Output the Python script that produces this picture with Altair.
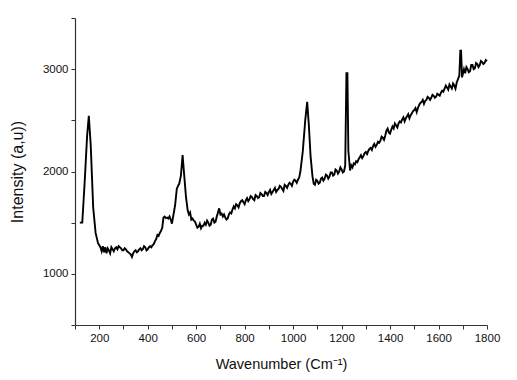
import altair as alt
import pandas as pd

# (wavenumber, intensity), by region
seg_low = [(120, 1500), (130, 1500), (140, 1900), (150, 2350), (157, 2545), (165, 2250), (175, 1650),
           (185, 1400), (195, 1300), (205, 1260), (210, 1220), (215, 1270), (220, 1210), (225, 1260),
           (230, 1200), (235, 1250), (240, 1230), (245, 1200), (250, 1260), (255, 1240), (260, 1220),
           (265, 1250), (270, 1260), (275, 1240), (280, 1270), (285, 1260), (290, 1250), (295, 1230),
           (300, 1230), (305, 1250), (310, 1240), (315, 1220), (320, 1210), (325, 1200), (330, 1190),
           (335, 1165), (340, 1200), (345, 1220), (350, 1230), (355, 1210), (360, 1220), (365, 1240),
           (370, 1250), (375, 1230), (380, 1240), (385, 1270), (390, 1260), (395, 1230), (400, 1240),
           (405, 1260), (410, 1270), (415, 1260), (420, 1280), (425, 1290), (430, 1320), (435, 1340),
           (440, 1380), (445, 1370), (450, 1400), (455, 1420), (460, 1450)]
seg_band = [(465, 1550), (470, 1560), (475, 1545), (480, 1550), (485, 1540), (490, 1560), (495, 1530),
            (500, 1490), (505, 1560), (513, 1670), (520, 1830), (525, 1860), (530, 1880), (537, 1960),
            (544, 2160), (550, 1980), (558, 1750), (565, 1620), (570, 1580), (575, 1600), (580, 1530),
            (585, 1540), (590, 1520), (595, 1510)]
seg_mid = [(600, 1480), (605, 1450), (610, 1460), (615, 1490), (620, 1445), (625, 1470), (630, 1470),
           (635, 1500), (640, 1480), (645, 1520), (650, 1500), (655, 1470), (660, 1480), (665, 1530),
           (670, 1540), (675, 1500), (680, 1510), (685, 1560), (690, 1600), (695, 1640), (700, 1580),
           (705, 1590), (710, 1560), (715, 1580), (720, 1550), (725, 1530), (730, 1540), (735, 1580),
           (740, 1600), (745, 1590), (750, 1630), (755, 1660), (760, 1640), (765, 1680), (770, 1670),
           (775, 1650), (780, 1690), (785, 1710), (790, 1720), (795, 1700), (800, 1680), (805, 1720),
           (810, 1740), (815, 1710), (820, 1730), (825, 1760), (830, 1750), (835, 1730), (840, 1720),
           (845, 1770), (850, 1760), (855, 1740), (860, 1750), (865, 1790), (870, 1780), (875, 1760),
           (880, 1760), (885, 1800), (890, 1790), (895, 1770), (900, 1800), (905, 1820), (910, 1780),
           (915, 1800), (920, 1820), (925, 1840), (930, 1800), (935, 1820), (940, 1830), (945, 1860),
           (950, 1850), (955, 1830), (960, 1810), (965, 1870), (970, 1860), (975, 1840), (980, 1870),
           (985, 1890), (990, 1880), (995, 1860), (1000, 1900), (1005, 1920), (1010, 1910), (1015, 1890),
           (1020, 1920), (1025, 1940)]
seg_peaks = [(1030, 2000), (1040, 2200), (1050, 2500), (1058, 2680), (1065, 2450), (1072, 2150),
             (1080, 1950), (1085, 1880), (1090, 1870), (1095, 1920), (1100, 1910), (1105, 1880),
             (1110, 1890), (1115, 1930), (1120, 1940), (1125, 1910), (1130, 1930), (1135, 1970),
             (1140, 1960), (1145, 1930), (1150, 1950), (1155, 1990), (1160, 1990), (1165, 1960),
             (1170, 1970), (1175, 2020), (1180, 2010), (1185, 1980), (1190, 2000), (1195, 2040),
             (1200, 2020), (1205, 1990), (1210, 2000), (1215, 2060), (1220, 2960), (1224, 2960),
             (1228, 2200), (1235, 2010)]
seg_high = [(1240, 2060), (1245, 2040), (1250, 2080), (1255, 2070), (1260, 2100), (1265, 2090),
            (1270, 2120), (1275, 2140), (1280, 2160), (1285, 2130), (1290, 2150), (1295, 2180),
            (1300, 2190), (1305, 2170), (1310, 2200), (1315, 2220), (1320, 2230), (1325, 2210),
            (1330, 2250), (1335, 2270), (1340, 2240), (1345, 2260), (1350, 2290), (1355, 2280),
            (1360, 2300), (1365, 2340), (1370, 2330), (1375, 2310), (1380, 2350), (1385, 2400),
            (1390, 2420), (1395, 2380), (1400, 2370), (1405, 2410), (1410, 2440), (1415, 2420),
            (1420, 2470), (1425, 2450), (1430, 2430), (1435, 2470), (1440, 2490), (1445, 2480),
            (1450, 2510), (1455, 2530), (1460, 2490), (1465, 2520), (1470, 2540), (1475, 2560),
            (1480, 2520), (1485, 2550), (1490, 2570), (1495, 2590), (1500, 2600), (1505, 2620),
            (1510, 2580), (1515, 2620), (1520, 2650), (1525, 2670), (1530, 2680), (1535, 2700),
            (1540, 2660), (1545, 2690), (1550, 2700), (1555, 2730), (1560, 2720), (1565, 2700),
            (1570, 2720), (1575, 2750), (1580, 2740), (1585, 2720), (1590, 2730), (1595, 2760),
            (1600, 2750), (1605, 2740), (1610, 2770), (1615, 2790), (1620, 2780), (1625, 2810),
            (1630, 2840), (1635, 2820), (1640, 2800), (1645, 2850), (1650, 2830), (1655, 2810),
            (1660, 2860), (1665, 2840), (1670, 2810), (1675, 2870), (1680, 2900)]
seg_end = [(1686, 2940), (1690, 3180), (1693, 3180), (1697, 2920), (1705, 3000), (1710, 2960),
           (1715, 3020), (1720, 3000), (1725, 2970), (1730, 2980), (1735, 3040), (1740, 3040),
           (1745, 3000), (1750, 3010), (1755, 3060), (1760, 3050), (1765, 3020), (1770, 3040),
           (1775, 3080), (1780, 3070), (1785, 3050), (1790, 3060), (1795, 3090), (1800, 3080)]

x_ticks = list(range(100, 1801, 100))
y_ticks = list(range(500, 3501, 500))

points = seg_low + seg_band + seg_mid + seg_peaks + seg_high + seg_end
df = pd.DataFrame(points, columns=["w", "i"])

font = "Liberation Sans"

chart = alt.Chart(df).mark_line(color="black", strokeWidth=1.9).encode(
    x=alt.X("w:Q", scale=alt.Scale(domain=[100, 1800], nice=False, zero=False),
            axis=alt.Axis(title="Wavenumber (Cm⁻¹)", values=x_ticks,
                          labelExpr="datum.value % 200 == 0 ? datum.label : ''",
                          format="d", grid=False, tickSize=4, labelPadding=3,
                          labelFlush=False, titlePadding=14, titleFontSize=14.5)),
    y=alt.Y("i:Q", scale=alt.Scale(domain=[500, 3500], nice=False, zero=False),
            axis=alt.Axis(title="Intensity (a,u))", values=y_ticks,
                          labelExpr="datum.value % 1000 == 0 ? datum.label : ''",
                          format="d", grid=False, tickSize=4, labelPadding=3,
                          labelFlush=False, titlePadding=17, titleFontSize=16)),
    order="w:Q",
).properties(
    width=412, height=307,
    autosize=alt.AutoSizeParams(type="none"),
    padding={"left": 67, "top": 10, "right": 14, "bottom": 47},
).configure_view(stroke=None).configure_axis(
    domainColor="#333333", tickColor="#333333", labelColor="#111111", titleColor="#111111",
    labelFont=font, titleFont=font, labelFontSize=11.5,
    titleFontWeight="normal", domainWidth=1.2,
)

chart.save("out.html", embed_options={"renderer": "svg", "actions": False})
